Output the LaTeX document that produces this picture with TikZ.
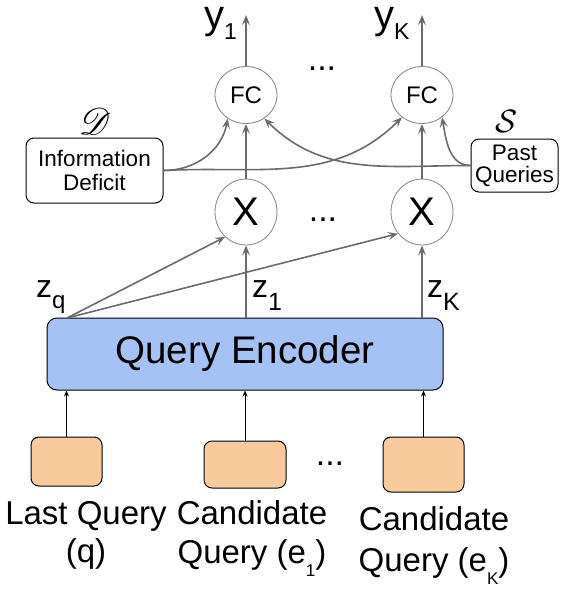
\documentclass[tikz,border=0pt]{standalone}
\usepackage{fontspec}
\setmainfont{Liberation Sans}
\usepackage{mathrsfs}
\usetikzlibrary{shapes.geometric,arrows.meta}

\definecolor{encblue}{HTML}{A4C2F4}
\definecolor{inorange}{HTML}{F9CB9C}
\definecolor{linegray}{HTML}{6B6B6B}
\definecolor{ringgray}{HTML}{8C8C8C}

\newcommand{\fs}[2]{\fontsize{#1pt}{#2pt}\selectfont}
\newcommand{\idx}[3]{\raisebox{-#1pt}{\fs{#2}{#2}#3}}

\tikzset{
  unit/.style={ellipse, draw=ringgray, line width=0.9pt, inner sep=0pt},
  infobox/.style={draw, rounded corners=8pt, align=center, line width=1pt, inner sep=0pt},
  inbox/.style={draw, fill=inorange, rounded corners=8pt, line width=1pt},
  flow/.style={draw=linegray, line width=1.6pt, -{Stealth[length=10pt,width=8pt,inset=4pt]}},
  feed/.style={draw=black, line width=1pt, -{Stealth[length=6pt,width=5pt]}},
  lbl/.style={inner sep=0pt, anchor=base west}
}

\begin{document}
\begin{tikzpicture}[x=1pt,y=1pt]
      \useasboundingbox (0,0) rectangle (567,-590);
      % inputs
      \node[inbox, minimum width=71pt, minimum height=49pt] (q) at (66.5,-461.5) {};
      \node[inbox, minimum width=82pt, minimum height=47pt] (e1) at (245,-464.5) {};
      \node[inbox, minimum width=81pt, minimum height=55pt] (ek) at (423.5,-464.5) {};
      \node[font=\fs{34}{34}, anchor=base] (dbot) at (330,-465) {...};
      \node[align=center, anchor=north, inner sep=0pt, font=\fs{33}{38}] (qlab) at (86,-501) {Last Query\\(q)};
      \node[align=center, anchor=north, inner sep=0pt, font=\fs{33}{39}] (e1lab) at (252,-500) {Candidate\\Query (e\idx{13}{17}{1})};
      \node[align=center, anchor=north, inner sep=0pt, font=\fs{33}{41}] (eklab) at (434,-506) {Candidate\\Query (e\idx{13}{17}{K})};
      % encoder
      \node[draw, fill=encblue, rounded corners=10pt, line width=1pt, minimum width=396pt, minimum height=72pt, font=\fs{38.5}{44}] (enc) at (245,-354) {Query Encoder};
      \coordinate (zq) at (67,-318);
      \node[lbl, font=\fs{32}{32}] (zqlab) at (36,-297) {z\idx{11}{24}{q}};
      \node[lbl, font=\fs{32}{32}] (z1lab) at (252,-297) {z\idx{13}{25}{1}};
      \node[lbl, font=\fs{32}{32}] (zklab) at (427,-297) {z\idx{13}{25}{K}};
      % products and heads
      \node[unit, minimum width=62pt, minimum height=66pt, font=\fs{40}{44}] (x1) at (246,-212) {X};
      \node[unit, minimum width=62pt, minimum height=66pt, font=\fs{40}{44}] (xk) at (422,-212) {X};
      \node[font=\fs{34}{34}, anchor=base] (dmid) at (323,-221) {...};
      \node[unit, minimum width=62pt, minimum height=57pt, font=\fs{24}{26}] (fc1) at (246,-95) {FC};
      \node[unit, minimum width=62pt, minimum height=57pt, font=\fs{24}{26}] (fck) at (422,-95) {FC};
      \node[font=\fs{34}{34}, anchor=base] (dtop) at (322,-70) {...};
      \coordinate (y1) at (246,-15);
      \coordinate (yk) at (422,-15);
      \node[lbl, font=\fs{40}{40}] (y1lab) at (204,-28) {y\idx{11}{23}{1}};
      \node[lbl, font=\fs{40}{40}] (yklab) at (374,-28) {y\idx{11}{23}{K}};
      % side inputs
      \node[infobox, minimum width=137pt, minimum height=65pt, font=\fs{22.5}{24}] (deficit) at (94.5,-170.5) {Information\\Deficit};
      \node[infobox, minimum width=87pt, minimum height=53pt, font=\fs{22.5}{22}] (past) at (514.5,-165.5) {Past\\Queries};
      \node[font=\fs{24}{24}] (dsym) at (95,-121) {\scalebox{1.5}{$\mathscr{D}$}};
      \node[font=\fs{24}{24}] (ssym) at (507,-121) {\scalebox{1.3}{$\mathcal{S}$}};
      % connections
      \draw[feed] (q.north) -- (q |- enc.south);
      \draw[feed] (e1.north) -- (e1 |- enc.south);
      \draw[feed] (ek.north) -- (ek |- enc.south);
      \draw[flow] (x1 |- enc.north) -- (x1);
      \draw[flow] (xk |- enc.north) -- (xk);
      \draw[flow] (zq) -- (x1.230);
      \draw[flow] (zq) -- (xk.222);
      \draw[flow] (x1) -- (fc1);
      \draw[flow] (xk) -- (fck);
      \draw[flow] (deficit.east) to[out=0, in=-100] (fc1.232);
      \draw[flow] (deficit.east) to[out=3, in=-135] (fck.228);
      \draw[flow] (past.west) to[out=180, in=-45] (fc1.308);
      \draw[flow] (past.west) to[out=180, in=-80] (fck.312);
      \draw[flow] (fc1) -- (y1);
      \draw[flow] (fck) -- (yk);
\end{tikzpicture}
\end{document}
